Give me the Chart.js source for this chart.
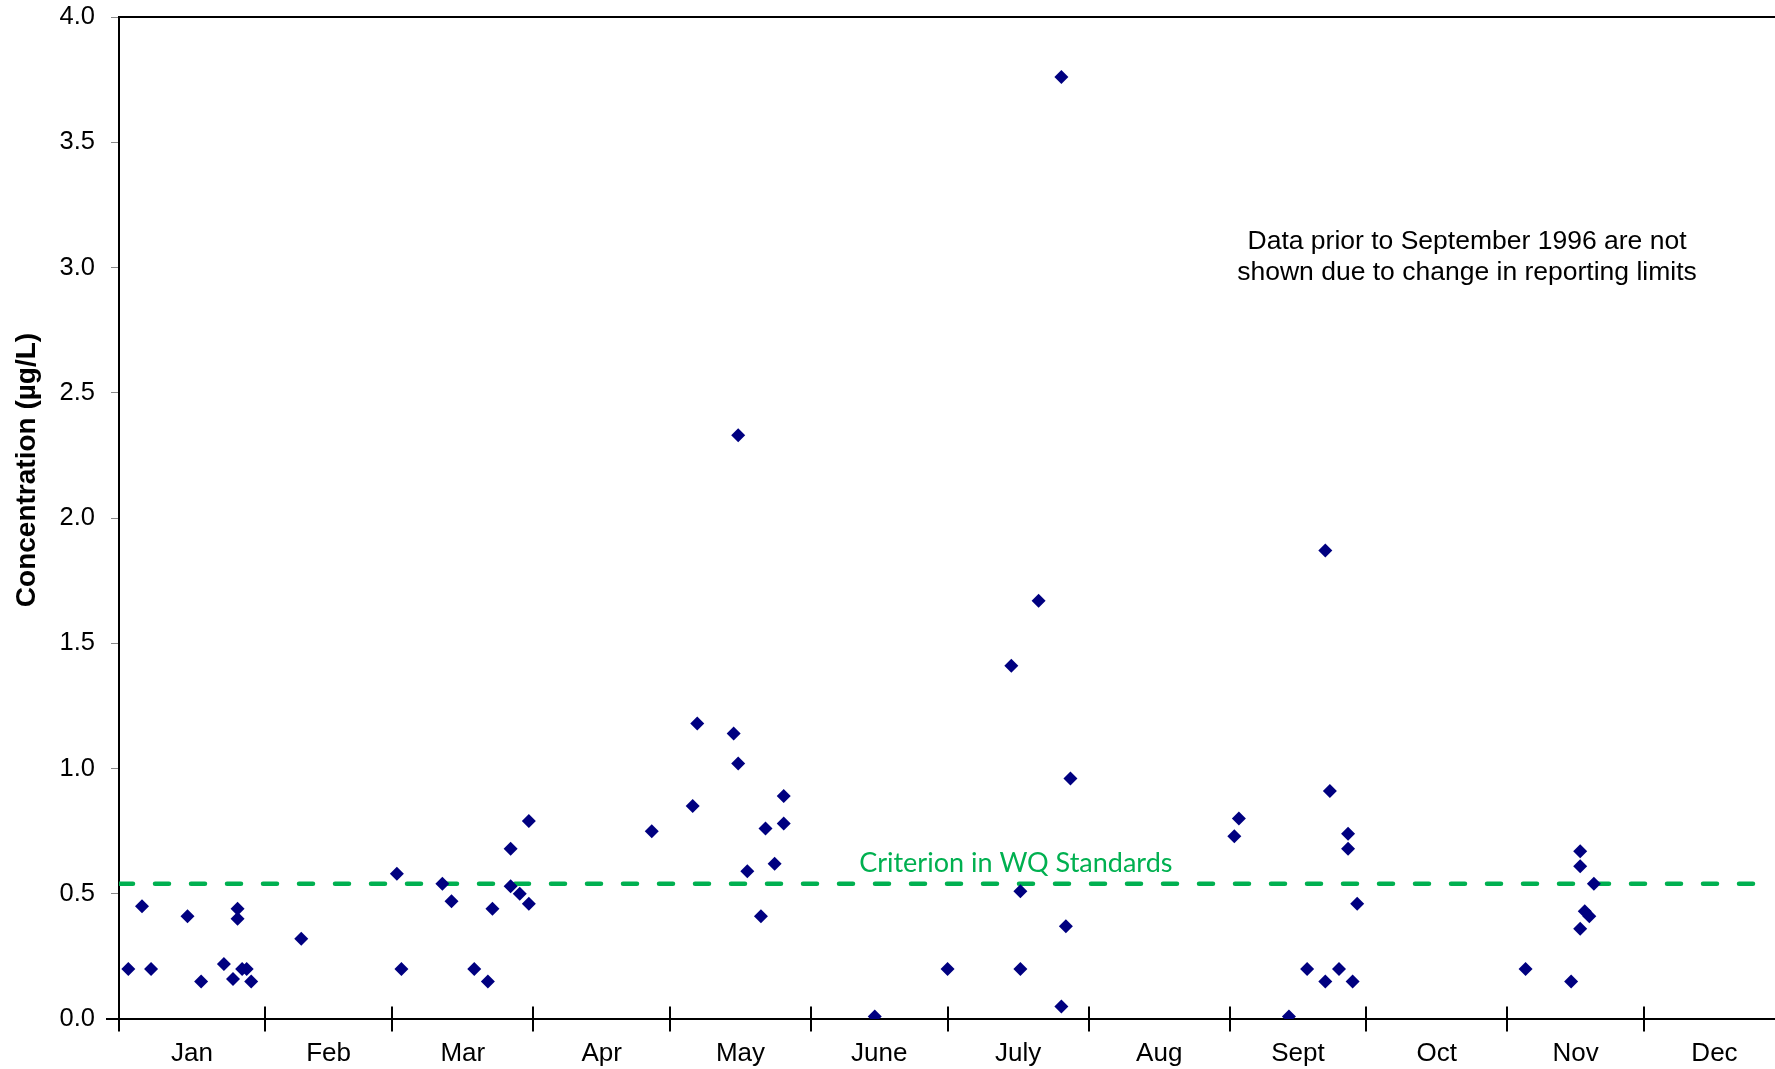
<!DOCTYPE html>
<html>
<head>
<meta charset="utf-8">
<title>Concentration by month</title>
<script src="https://cdn.jsdelivr.net/npm/chart.js@4.4.1/dist/chart.umd.min.js"></script>
<style>
  html, body { margin: 0; padding: 0; background: #fff; overflow: hidden; }
  #wrap { width: 1775px; height: 1069px; position: relative; }
</style>
</head>
<body>
<div id="wrap"><canvas id="grafica"></canvas></div>
<script>
// months of the year, x value = day of year (Jan 1 = 0)
const months = ['Jan', 'Feb', 'Mar', 'Apr', 'May', 'June', 'July', 'Aug', 'Sept', 'Oct', 'Nov', 'Dec'];
const monthStart = [0, 31, 59, 90, 120, 151, 181, 212, 243, 273, 304, 334, 365];

// samples (day of year, µg/L)
const sampleDay = [
  1, 4, 6, 14, 17, 22, 24, 25, 25, 26, 27, 28,
  39,
  60, 61, 70, 72, 77, 80, 81, 85, 85, 87, 89, 89,
  116, 125, 126, 134, 135, 135, 137, 140, 141, 143, 145, 145,
  165,
  181, 195, 197, 197, 201, 206, 206, 207, 208,
  244, 245, 256, 260, 264, 264, 265, 267, 269, 269, 270, 271,
  308, 318, 320, 320, 320, 321, 322, 323
];
const concentration = [
  0.20, 0.45, 0.20, 0.41, 0.15, 0.22, 0.16, 0.44, 0.40, 0.20, 0.20, 0.15,
  0.32,
  0.58, 0.20, 0.54, 0.47, 0.20, 0.15, 0.44, 0.68, 0.53, 0.50, 0.79, 0.46,
  0.75, 0.85, 1.18, 1.14, 1.02, 2.33, 0.59, 0.41, 0.76, 0.62, 0.89, 0.78,
  0.01,
  0.20, 1.41, 0.51, 0.20, 1.67, 0.05, 3.76, 0.37, 0.96,
  0.73, 0.80, 0.01, 0.20, 0.15, 1.87, 0.91, 0.20, 0.74, 0.68, 0.15, 0.46,
  0.20, 0.15, 0.67, 0.61, 0.36, 0.43, 0.41, 0.54
];

const criterion = 0.54;
const criterionLabel = 'Criterion in WQ Standards';
const noteLines = ['Data prior to September 1996 are not', 'shown due to change in reporting limits'];
const yTicks = [0, 0.5, 1, 1.5, 2, 2.5, 3, 3.5, 4];

const X_MIN = -1.05;
const X_MAX = 362.8;

let puntos = [];
for (let i = 0; i < sampleDay.length; i++) {
  puntos.push({ x: sampleDay[i], y: concentration[i] });
}

// month label positions: middle of each month
let midMonth = [];
for (let i = 0; i < months.length; i++) {
  let a = i == 0 ? X_MIN : monthStart[i];
  midMonth.push((a + monthStart[i + 1]) / 2);
}

function sinPadding(scale) {
  scale.paddingTop = 0;
  scale.paddingBottom = 0;
  scale.paddingLeft = 0;
  scale.paddingRight = 0;
}

const decoraciones = {
  id: 'decoraciones',
  beforeDatasetsDraw(chart) {
    const ctx = chart.ctx;
    const x = chart.scales.x;
    const y = chart.scales.y;
    const y0 = y.getPixelForValue(0);
    ctx.save();
    ctx.strokeStyle = '#000';
    ctx.lineWidth = 2;
    ctx.beginPath();
    // month boundary marks crossing the axis
    for (let i = 0; i < 12; i++) {
      const v = i == 0 ? X_MIN : monthStart[i];
      const px = Math.round(x.getPixelForValue(v));
      ctx.moveTo(px, y0 - 12.5);
      ctx.lineTo(px, y0 + 12.5);
    }
    // axis stub left of origin
    ctx.moveTo(x.getPixelForValue(X_MIN) - 13, y0);
    ctx.lineTo(x.getPixelForValue(X_MIN), y0);
    ctx.stroke();
    ctx.restore();
  },
  afterDraw(chart) {
    const ctx = chart.ctx;
    const x = chart.scales.x;
    const y = chart.scales.y;
    ctx.save();

    // criterion label
    ctx.fillStyle = '#00B050';
    ctx.font = '27px Lato, "Open Sans", sans-serif';
    ctx.textAlign = 'center';
    ctx.textBaseline = 'alphabetic';
    ctx.fillText(criterionLabel, x.getPixelForValue(196), y.getPixelForValue(criterion) - 12);

    // note
    ctx.fillStyle = '#000';
    ctx.font = '26.5px "Liberation Sans", Arial, sans-serif';
    ctx.fillText(noteLines[0], 1467, 249);
    ctx.fillText(noteLines[1], 1467, 280);

    // y axis title
    ctx.translate(35, 470);
    ctx.rotate(-Math.PI / 2);
    ctx.font = 'bold 28px "Liberation Sans", Arial, sans-serif';
    ctx.fillText('Concentration (µg/L)', 0, 0);
    ctx.restore();
  }
};

const ctx = document.getElementById('grafica').getContext('2d');

let grafica = new Chart(ctx, {
  type: 'scatter',
  data: {
    datasets: [{
      label: 'Concentration',
      data: puntos,
      pointStyle: 'rectRot',
      pointRadius: 7,
      pointBackgroundColor: '#000080',
      pointBorderColor: '#000080',
      pointBorderWidth: 0,
      order: 1
    }, {
      type: 'line',
      label: criterionLabel,
      data: [{ x: X_MIN, y: criterion }, { x: X_MAX, y: criterion }],
      borderColor: '#00B050',
      borderWidth: 4.5,
      borderDash: [14, 22],
      borderCapStyle: 'round',
      pointRadius: 0,
      fill: false,
      order: 2
    }]
  },
  options: {
    responsive: true,
    maintainAspectRatio: false,
    animation: false,
    layout: { padding: 0, autoPadding: false },
    plugins: {
      legend: { display: false },
      tooltip: { enabled: false }
    },
    scales: {
      x: {
        type: 'linear',
        position: 'bottom',
        min: X_MIN,
        max: X_MAX,
        afterBuildTicks: function(scale) {
          scale.ticks = midMonth.map(v => ({ value: v }));
        },
        afterFit: function(scale) { scale.height = 50; sinPadding(scale); },
        grid: { display: false },
        border: { display: true, color: '#000', width: 2 },
        ticks: {
          autoSkip: false,
          maxRotation: 0,
          padding: 11,
          color: '#000',
          font: { family: '"Liberation Sans", Arial, sans-serif', size: 26 },
          callback: function(value, index) {
            return months[index];
          }
        }
      },
      xTop: {
        type: 'linear',
        position: 'top',
        min: X_MIN,
        max: X_MAX,
        afterFit: function(scale) { scale.height = 17; sinPadding(scale); },
        grid: { display: false },
        border: { display: true, color: '#000', width: 2 },
        ticks: { display: false }
      },
      y: {
        min: 0,
        max: 4,
        afterBuildTicks: function(scale) {
          scale.ticks = yTicks.map(v => ({ value: v }));
        },
        afterFit: function(scale) { scale.width = 119; sinPadding(scale); },
        grid: {
          drawOnChartArea: false,
          drawTicks: true,
          tickLength: 8,
          color: '#888888',
          lineWidth: 1
        },
        border: { display: true, color: '#000', width: 2 },
        ticks: {
          padding: 16,
          color: '#000',
          font: { family: '"Liberation Sans", Arial, sans-serif', size: 25.5 },
          callback: function(value) {
            return parseFloat(value).toFixed(1);
          }
        }
      }
    }
  },
  plugins: [decoraciones]
});
</script>
</body>
</html>
